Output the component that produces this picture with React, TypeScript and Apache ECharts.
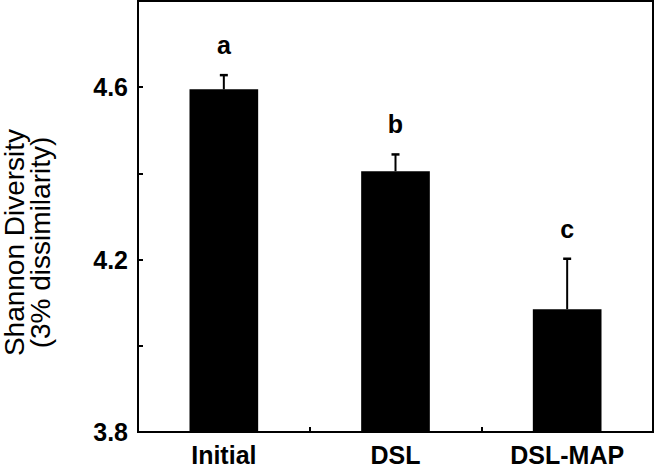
import React, { useEffect, useRef } from "react";
import * as echarts from "echarts";

const categories = ["Initial", "DSL", "DSL-MAP"];
const means = [4.595, 4.405, 4.085];
const errorTops = [4.628, 4.444, 4.202];
const letters = ["a", "b", "c"];
const tickLabels = ["3.8", "4.2", "4.6"];

const FONT = "'Liberation Sans', Arial, Helvetica, sans-serif";

export default function App() {
  const ref = useRef<HTMLDivElement>(null);
  useEffect(() => {
    if (!ref.current) return;
    const chart = echarts.init(ref.current, undefined, { renderer: "svg" });
    chart.setOption({
      animation: false,
      backgroundColor: "#ffffff",
      grid: {
        left: 138,
        right: 3,
        top: 1,
        bottom: 43,
        containLabel: false,
        outerBoundsMode: "none",
        show: true,
        borderColor: "#000",
        borderWidth: 2,
        backgroundColor: "transparent",
      },
      xAxis: {
        type: "category",
        data: categories,
        axisLine: { show: true, lineStyle: { color: "#000", width: 2 } },
        axisTick: { show: true, inside: true, length: 5, lineStyle: { color: "#000", width: 2 } },
        axisLabel: {
          color: "#000",
          fontSize: 25,
          fontWeight: "bold",
          fontFamily: FONT,
          margin: 10,
        },
        splitLine: { show: false },
      },
      yAxis: {
        type: "value",
        min: 3.8,
        max: 4.8,
        interval: 0.2,
        name: "Shannon Diversity\n(3% dissimilarity)",
        nameLocation: "middle",
        nameGap: 85,
        nameTextStyle: {
          color: "#000",
          fontSize: 28,
          lineHeight: 26,
          fontFamily: FONT,
          padding: [0, 52, 0, 0],
        },
        axisLine: { show: true, lineStyle: { color: "#000", width: 2 } },
        axisTick: { show: true, inside: true, length: 5, lineStyle: { color: "#000", width: 2 } },
        axisLabel: {
          color: "#000",
          fontSize: 25,
          fontWeight: "bold",
          fontFamily: FONT,
          margin: 10,
          formatter: (v: number) => {
            const s = v.toFixed(1);
            return tickLabels.includes(s) ? s : "";
          },
        },
        splitLine: { show: false },
      },
      series: [
        {
          type: "bar",
          data: means,
          barWidth: "40%",
          itemStyle: { color: "#000" },
        },
        {
          type: "custom",
          data: categories.map((_, i) => [i, means[i], errorTops[i]]),
          z: 5,
          renderItem: (params: any, api: any) => {
            const i = api.value(0);
            const top = api.coord([i, api.value(1)]);
            const err = api.coord([i, api.value(2)]);
            const capHalf = 4;
            return {
              type: "group",
              children: [
                {
                  type: "line",
                  shape: { x1: top[0], y1: top[1], x2: err[0], y2: err[1] },
                  style: { stroke: "#000", lineWidth: 2 },
                },
                {
                  type: "line",
                  shape: { x1: err[0] - capHalf, y1: err[1], x2: err[0] + capHalf, y2: err[1] },
                  style: { stroke: "#000", lineWidth: 2.5 },
                },
                {
                  type: "text",
                  x: err[0],
                  y: err[1] - 30,
                  style: {
                    text: letters[params.dataIndex],
                    fill: "#000",
                    font: `bold 25px ${FONT}`,
                    align: "center",
                    verticalAlign: "middle",
                  },
                },
              ],
            };
          },
        },
      ],
    });
    return () => chart.dispose();
  }, []);
  return (
    <div
      ref={ref}
      style={{ position: "absolute", left: 0, top: 0, width: 656, height: 475 }}
    />
  );
}
